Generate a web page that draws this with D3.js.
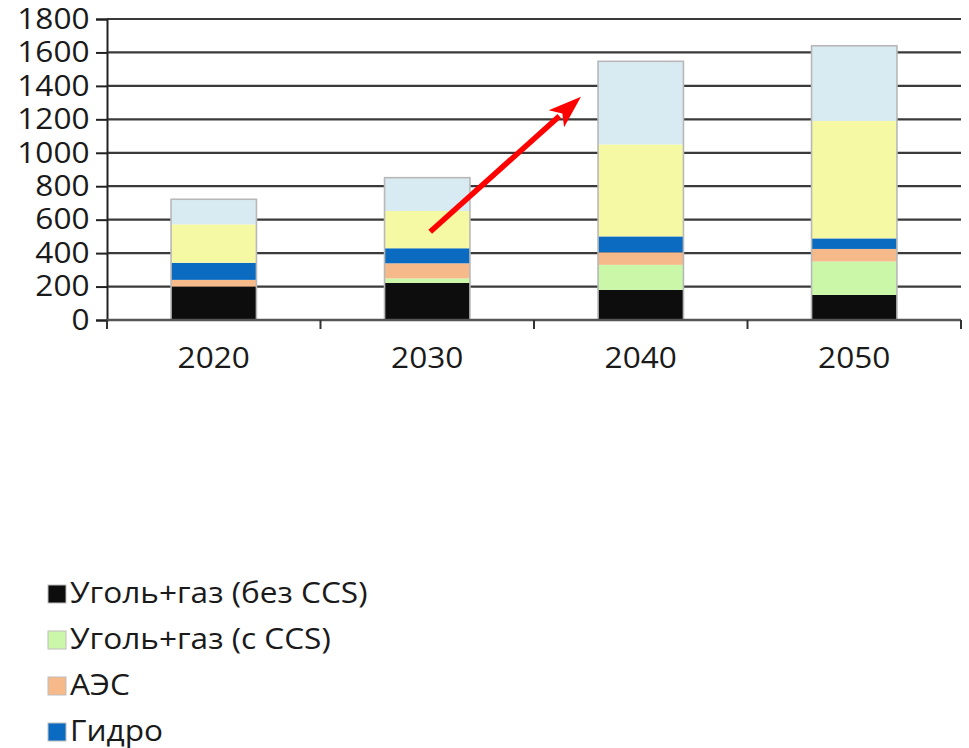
<!DOCTYPE html>
<html>
<head>
<meta charset="utf-8">
<script src="https://cdn.jsdelivr.net/npm/d3@7"></script>
<style>
  html, body { margin: 0; padding: 0; background: #fff; }
  svg { display: block; }
  text { font-family: "Open Sans", sans-serif; fill: #1a1a1a; }
</style>
</head>
<body>
<svg id="chart" width="969" height="748"></svg>
<script>
// Electricity generation by source, stacked per year
const years = ["2020", "2030", "2040", "2050"];
const seriesNames = [
  "Уголь+газ (без CCS)",
  "Уголь+газ (с CCS)",
  "АЭС",
  "Гидро",
  "ВИЭ",
  "Прочие"
];
const coalGasNoCCS = [200, 222, 180, 150];
const coalGasCCS   = [0,   27,  150, 200];
const nuclear      = [40,  90,  75,  75];
const hydro        = [102, 90,  95,  63];
const renewables   = [230, 223, 550, 702];
const other        = [150, 199, 497, 450];
const yTicks = [0, 200, 400, 600, 800, 1000, 1200, 1400, 1600, 1800];
const colors = ["#0d0d0d", "#cbf7a8", "#f6b98a", "#0a6bc1", "#f6f9a4", "#d9ebf2"];

// Trend arrow: category-index position and value at each end
const arrowFrom = { idx: 1.014, value: 528 };
const arrowTo   = { idx: 1.72,  value: 1335 };

const W = 969, H = 748;
const plot = { left: 107, right: 961, top: 19, bottom: 320 };
const textStretch = 1.09;   // the typeface is set slightly wide

const svg = d3.select("#chart");

const columns = [coalGasNoCCS, coalGasCCS, nuclear, hydro, renewables, other];
const table = years.map((y, i) => {
  const row = { year: y };
  seriesNames.forEach((s, k) => { row[s] = columns[k][i]; });
  return row;
});

const x = d3.scaleBand()
  .domain(years)
  .range([plot.left, plot.right])
  .paddingInner(0.6)
  .paddingOuter(0.3);

const y = d3.scaleLinear()
  .domain([0, 1800])
  .range([plot.bottom, plot.top]);

// horizontal gridlines
svg.append("g")
  .selectAll("line")
  .data(yTicks.filter(t => t > 0))
  .join("line")
  .attr("x1", plot.left)
  .attr("x2", plot.right)
  .attr("y1", d => y(d))
  .attr("y2", d => y(d))
  .attr("stroke", "#3a3a3a")
  .attr("stroke-width", 2.2);

// stacked bars
const stacked = d3.stack().keys(seriesNames)(table);
svg.append("g")
  .selectAll("g")
  .data(stacked)
  .join("g")
  .attr("fill", (d, i) => colors[i])
  .selectAll("rect")
  .data(d => d)
  .join("rect")
  .attr("x", d => x(d.data.year))
  .attr("width", x.bandwidth())
  .attr("y", d => y(d[1]))
  .attr("height", d => y(d[0]) - y(d[1]));

// bar outlines
svg.append("g")
  .selectAll("rect")
  .data(table)
  .join("rect")
  .attr("x", d => x(d.year))
  .attr("width", x.bandwidth())
  .attr("y", d => y(d3.sum(seriesNames, s => d[s])))
  .attr("height", d => y(0) - y(d3.sum(seriesNames, s => d[s])))
  .attr("fill", "none")
  .attr("stroke", "#b8b8b8")
  .attr("stroke-width", 1.6);

// y axis
const yAxis = svg.append("g")
  .attr("transform", `translate(${plot.left},0)`)
  .call(d3.axisLeft(y).tickValues(yTicks).tickSize(11).tickPadding(5).tickFormat(d3.format("d")));
yAxis.select(".domain").attr("stroke", "#222").attr("stroke-width", 2);
yAxis.selectAll(".tick line").attr("stroke", "#222").attr("stroke-width", 2);
yAxis.selectAll(".tick text")
  .style("font-family", "'Open Sans', sans-serif")
  .style("font-size", "29px")
  .attr("fill", "#1a1a1a")
  .attr("transform", `scale(${textStretch},1)`);

// x axis with boundary ticks between categories
const xAxisG = svg.append("g").attr("transform", `translate(0,${plot.bottom})`);
xAxisG.append("line")
  .attr("x1", plot.left).attr("x2", plot.right)
  .attr("stroke", "#555").attr("stroke-width", 2.4);
const step = x.step();
xAxisG.selectAll("line.bound")
  .data(d3.range(years.length + 1))
  .join("line")
  .attr("class", "bound")
  .attr("x1", i => plot.left + i * step)
  .attr("x2", i => plot.left + i * step)
  .attr("y1", 0)
  .attr("y2", 9)
  .attr("stroke", "#333")
  .attr("stroke-width", 2);
xAxisG.selectAll("text")
  .data(years)
  .join("text")
  .attr("transform", d => `translate(${x(d) + x.bandwidth() / 2},48) scale(${textStretch},1)`)
  .attr("text-anchor", "middle")
  .style("font-size", "29px")
  .text(d => d);

// trend arrow
const xi = d3.scaleLinear()
  .domain([0, years.length - 1])
  .range([x(years[0]) + x.bandwidth() / 2, x(years[years.length - 1]) + x.bandwidth() / 2]);
const x0 = xi(arrowFrom.idx), y0 = y(arrowFrom.value);
const x1 = xi(arrowTo.idx),   y1 = y(arrowTo.value);
const len = Math.hypot(x1 - x0, y1 - y0);
const ux = (x1 - x0) / len, uy = (y1 - y0) / len;
const headLen = 33, headHalf = 11.5;
const bx = x1 - ux * headLen, by = y1 - uy * headLen;
svg.append("line")
  .attr("x1", x0).attr("y1", y0)
  .attr("x2", bx + ux * 4).attr("y2", by + uy * 4)
  .attr("stroke", "#ff0000")
  .attr("stroke-width", 5.5);
svg.append("path")
  .attr("d", `M${x1},${y1}L${bx - uy * headHalf},${by + ux * headHalf}L${bx + ux * 8},${by + uy * 8}L${bx + uy * headHalf},${by - ux * headHalf}Z`)
  .attr("fill", "#ff0000");

// legend, one row per series, only rows that fit in the frame
const legend = { x: 48, y: 585, row: 46, box: 18 };
const rows = seriesNames.map((s, i) => ({ name: s, color: colors[i], top: legend.y + i * legend.row }))
  .filter(r => r.top + legend.box < H);
const lg = svg.append("g")
  .selectAll("g")
  .data(rows)
  .join("g")
  .attr("transform", d => `translate(${legend.x},${d.top})`);
lg.append("rect")
  .attr("width", legend.box)
  .attr("height", legend.box)
  .attr("fill", d => d.color)
  .attr("stroke", "#bdbdbd")
  .attr("stroke-width", 1);
lg.append("text")
  .attr("transform", `translate(${legend.box + 4},${legend.box - 0.5}) scale(${textStretch},1)`)
  .style("font-size", "29px")
  .text(d => d.name);
</script>
</body>
</html>
